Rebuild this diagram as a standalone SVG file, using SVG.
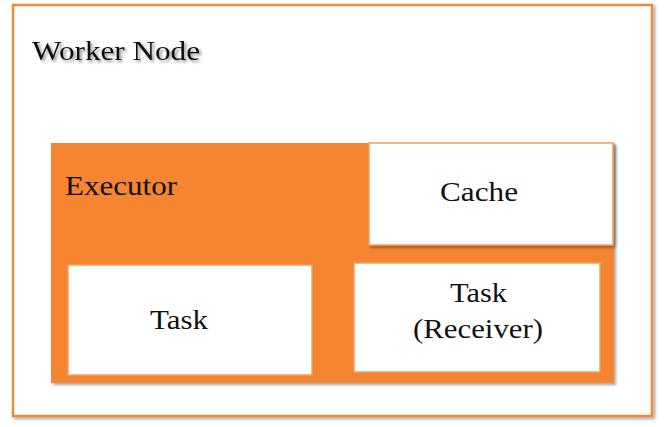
<svg xmlns="http://www.w3.org/2000/svg" width="664" height="427" viewBox="0 0 664 427">
<defs>
<filter id="sh" x="-5%" y="-5%" width="115%" height="115%">
<feDropShadow dx="2" dy="2" stdDeviation="1.5" flood-color="#000" flood-opacity="0.35"/>
</filter>
<filter id="tsh" x="-10%" y="-30%" width="120%" height="160%">
<feDropShadow dx="2" dy="2" stdDeviation="1.5" flood-color="#000" flood-opacity="0.45"/>
</filter>
</defs>
<style>
.lbl{font-family:"Times New Roman","Liberation Serif",Tinos,"Noto Serif","DejaVu Serif",serif;font-size:28px;fill:#111;}
.box{fill:#fff;stroke:#f0a060;stroke-width:1.5;}
</style>
<rect width="664" height="427" fill="#fff"/>
<g id="worker-node">
<rect x="13" y="5" width="639" height="411" fill="#fff" stroke="#ef8a3c" stroke-width="2.5" filter="url(#sh)"/>
<text x="32" y="60" class="lbl" filter="url(#tsh)" textLength="168" lengthAdjust="spacingAndGlyphs">Worker Node</text>
</g>
<g id="executor">
<rect x="51" y="143" width="563" height="240" fill="#f68530" filter="url(#sh)"/>
<text x="65" y="195" class="lbl" textLength="112" lengthAdjust="spacingAndGlyphs">Executor</text>
</g>
<g id="cache">
<rect x="369" y="143" width="244" height="102" class="box" filter="url(#sh)"/>
<text x="440" y="201" class="lbl" textLength="78" lengthAdjust="spacingAndGlyphs">Cache</text>
</g>
<g id="task">
<rect x="68" y="265" width="244" height="110" class="box"/>
<text x="150" y="329" class="lbl" textLength="58" lengthAdjust="spacingAndGlyphs">Task</text>
</g>
<g id="task-receiver">
<rect x="354" y="263" width="246" height="109" class="box"/>
<text x="450" y="302" class="lbl" textLength="57" lengthAdjust="spacingAndGlyphs">Task</text>
<text x="413" y="338" class="lbl" textLength="130" lengthAdjust="spacingAndGlyphs">(Receiver)</text>
</g>
<g id="connectors"></g>
</svg>
